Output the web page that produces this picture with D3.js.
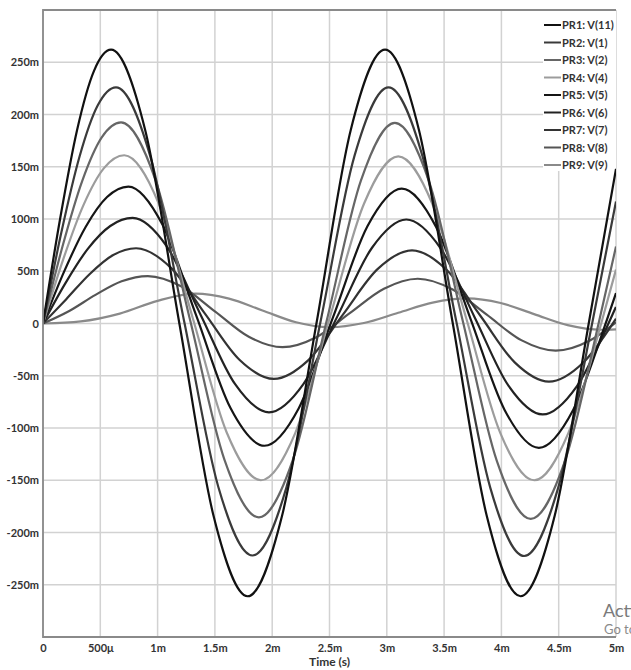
<!DOCTYPE html>
<html>
<head>
<meta charset="utf-8">
<script src="https://cdn.jsdelivr.net/npm/d3@7"></script>
<style>
	body { margin: 0; background: #fff; }
	text { font-family: Lato, "DejaVu Sans", sans-serif; }
	.tick text { font-size: 11px; font-weight: 700; fill: #333; }
</style>
</head>
<body>
<script>
// time in ms, voltage in mV
var v11 = [[0,0],[0.149,100],[0.297,185],[0.446,242],[0.594,262],[0.892,185],[1.19,0],[1.488,-184],[1.786,-261],[2.086,-184],[2.386,0],[2.685,185],[2.985,262],[3.281,185],[3.576,0],[3.872,-184],[4.167,-261],[4.465,-184],[4.762,0],[5,148]];
var v1 = [[0,0],[0.159,86.5],[0.319,159.8],[0.478,208.8],[0.637,226],[0.935,160.4],[1.232,2],[1.53,-156.4],[1.828,-222],[2.125,-156.4],[2.422,2],[2.718,160.4],[3.015,226],[3.311,160.3],[3.607,1.8],[3.902,-156.8],[4.198,-222.5],[4.496,-157.1],[4.793,0.8],[5,116.7]];
var v2 = [[0,0],[0.17,73.7],[0.341,136.1],[0.511,177.9],[0.681,192.5],[0.982,137.2],[1.283,3.5],[1.583,-130.2],[1.884,-185.5],[2.181,-130.2],[2.477,3.3],[2.774,136.7],[3.07,192],[3.367,136.5],[3.663,2.5],[3.96,-131.5],[4.256,-187],[4.554,-131.8],[4.851,1.5],[5,73.6]];
var v4 = [[0,0],[0.177,61.6],[0.355,113.8],[0.532,148.7],[0.709,161],[1.007,115.5],[1.306,5.5],[1.604,-104.5],[1.902,-150],[2.202,-104.6],[2.501,5],[2.801,114.6],[3.1,160],[3.397,114.6],[3.693,5],[3.99,-104.6],[4.286,-150],[4.584,-104.9],[4.881,4],[5,51.6]];
var v5 = [[0,0],[0.186,50.1],[0.373,92.6],[0.559,121],[0.745,131],[1.042,94.7],[1.339,7],[1.635,-80.7],[1.932,-117],[2.232,-81],[2.531,6],[2.831,93],[3.13,129],[3.429,92.7],[3.729,5],[4.028,-82.7],[4.327,-119],[4.625,-83],[4.922,4],[5,29.1]];
var v6 = [[0,0],[0.196,38.7],[0.391,71.4],[0.587,93.3],[0.782,101],[1.08,73.8],[1.377,8],[1.675,-57.8],[1.972,-85],[2.272,-58],[2.571,7.3],[2.871,72.5],[3.17,99.5],[3.468,72.2],[3.765,6.3],[4.063,-59.7],[4.36,-87],[4.658,-60.1],[4.955,5],[5,15.9]];
var v7 = [[0,0],[0.203,23.3],[0.406,47.2],[0.609,65.3],[0.812,72],[1.113,53.7],[1.413,9.5],[1.714,-34.7],[2.014,-53],[2.316,-35],[2.617,8.5],[2.919,52],[3.22,70],[3.519,51.6],[3.818,7.2],[4.116,-37.2],[4.415,-55.6],[4.713,-37.5],[5,4.6]];
var v8 = [[0,0],[0.229,12],[0.458,27.4],[0.686,40.4],[0.915,45.4],[1.209,35.4],[1.503,11.4],[1.796,-12.7],[2.09,-22.7],[2.385,-13.1],[2.68,10.1],[2.975,33.2],[3.27,42.8],[3.571,32.7],[3.872,8.4],[4.173,-15.9],[4.474,-26],[4.772,-16.3],[5,1.1]];
var v9 = [[0,0],[0.33,2],[0.67,9.5],[1,21.7],[1.33,28.5],[1.623,23.8],[1.915,12.5],[2.208,1.2],[2.5,-3.5],[2.8,0.5],[3.1,10.3],[3.4,20],[3.7,24],[3.993,19.6],[4.285,9],[4.578,-1.6],[4.87,-6],[5,-5.7]];

var seriesNames = ["PR1: V(11)","PR2: V(1)","PR3: V(2)","PR4: V(4)","PR5: V(5)","PR6: V(6)","PR7: V(7)","PR8: V(8)","PR9: V(9)"];
var seriesColors = ["#111","#3a3a3a","#666","#9c9c9c","#151515","#222","#333","#555","#8a8a8a"];
var seriesData = [v11, v1, v2, v4, v5, v6, v7, v8, v9];

var xTicks = [0,0.5,1,1.5,2,2.5,3,3.5,4,4.5,5];
var xTickLabels = ["0","500\u03bc","1m","1.5m","2m","2.5m","3m","3.5m","4m","4.5m","5m"];
var yTicks = [-250,-200,-150,-100,-50,0,50,100,150,200,250];
var yTickLabels = ["-250m","-200m","-150m","-100m","-50m","0","50m","100m","150m","200m","250m"];
var yGrid = [-300,-250,-200,-150,-100,-50,0,50,100,150,200,250,300];

var W = 631, H = 670;
var plotL = 43, plotR = 616, plotT = 10, plotB = 637;

var svg = d3.select("body").append("svg")
	.attr("width", W)
	.attr("height", H);

var x = d3.scaleLinear().domain([0,5]).range([plotL, plotR]);
var y = d3.scaleLinear().domain([-300,300]).range([plotB, plotT]);

// grid
var grid = svg.append("g").attr("class","grid");

grid.selectAll("line.v")
	.data(xTicks)
	.enter()
	.append("line")
	.attr("class","v")
	.attr("x1", function(d){ return x(d); })
	.attr("x2", function(d){ return x(d); })
	.attr("y1", plotT)
	.attr("y2", plotB)
	.attr("stroke","#d2d2d2")
	.attr("stroke-width",1.5);

grid.selectAll("line.h")
	.data(yGrid)
	.enter()
	.append("line")
	.attr("class","h")
	.attr("x1", plotL)
	.attr("x2", plotR)
	.attr("y1", function(d){ return y(d); })
	.attr("y2", function(d){ return y(d); })
	.attr("stroke","#d2d2d2")
	.attr("stroke-width",1.5);

// axis labels
var xAxis = d3.axisBottom(x)
	.tickValues(xTicks)
	.tickSize(0)
	.tickPadding(7)
	.tickFormat(function(d,i){ return xTickLabels[i]; });

svg.append("g")
	.attr("transform","translate(0," + plotB + ")")
	.call(xAxis)
	.call(function(g){ g.select(".domain").remove(); });

var yAxis = d3.axisLeft(y)
	.tickValues(yTicks)
	.tickSize(0)
	.tickPadding(4)
	.tickFormat(function(d,i){ return yTickLabels[i]; });

svg.append("g")
	.attr("transform","translate(" + plotL + ",0)")
	.call(yAxis)
	.call(function(g){ g.select(".domain").remove(); });

svg.append("text")
	.attr("x", (plotL + plotR) / 2)
	.attr("y", 666)
	.attr("text-anchor","middle")
	.attr("font-size",12)
	.attr("font-weight",700)
	.attr("fill","#333")
	.text("Time (s)");

// legend box hides the grid behind it
svg.append("rect")
	.attr("x",543)
	.attr("y",11)
	.attr("width",73)
	.attr("height",160)
	.attr("fill","#fff");

// curves
svg.append("clipPath")
	.attr("id","plot")
	.append("rect")
	.attr("x",plotL)
	.attr("y",plotT)
	.attr("width",plotR-plotL)
	.attr("height",plotB-plotT);

var line = d3.line()
	.x(function(d){ return x(d[0]); })
	.y(function(d){ return y(d[1]); })
	.curve(d3.curveMonotoneX);

svg.append("g")
	.attr("clip-path","url(#plot)")
	.selectAll("path")
	.data(seriesData.slice().reverse())
	.enter()
	.append("path")
	.attr("fill","none")
	.attr("stroke", function(d,i){ return seriesColors[seriesData.length-1-i]; })
	.attr("stroke-width",2.2)
	.attr("stroke-linejoin","round")
	.attr("d", line);

// frame
svg.append("path")
	.attr("d","M" + plotR + "," + plotT + "H" + plotL + "V" + plotB + "H" + plotR)
	.attr("fill","none")
	.attr("stroke","#8a8a8a")
	.attr("stroke-width",1.8);

// legend
var legend = svg.append("g")
	.selectAll("g")
	.data(seriesNames)
	.enter()
	.append("g")
	.attr("transform", function(d,i){ return "translate(0," + (25 + i*17.5) + ")"; });

legend.append("line")
	.attr("x1",544)
	.attr("x2",561)
	.attr("stroke", function(d,i){ return seriesColors[i]; })
	.attr("stroke-width",2);

legend.append("text")
	.attr("x",562)
	.attr("y",4)
	.attr("font-size",11)
	.attr("font-weight",700)
	.attr("fill","#333")
	.text(function(d){ return d; });

// windows watermark at the corner (runs off the page like in the screenshot)
svg.append("text")
	.attr("x",603)
	.attr("y",617)
	.attr("font-family","'Open Sans', sans-serif")
	.attr("font-size",18)
	.attr("fill","#7a7a7a")
	.text("Activate Windows");

svg.append("text")
	.attr("x",604)
	.attr("y",634)
	.attr("font-family","'Open Sans', sans-serif")
	.attr("font-size",13)
	.attr("fill","#8a8a8a")
	.text("Go to Settings to activate Windows.");
</script>
</body>
</html>
